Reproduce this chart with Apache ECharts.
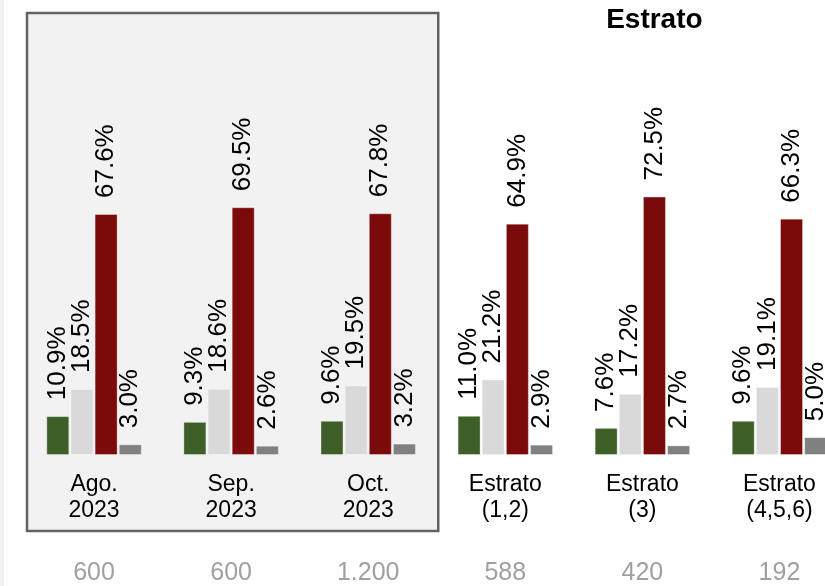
<!DOCTYPE html>
<html>
<head>
<meta charset="utf-8">
<script src="https://cdn.jsdelivr.net/npm/echarts@6/dist/echarts.min.js"></script>
<style>html,body{margin:0;padding:0;background:#fff;overflow:hidden;width:825px;height:586px;}#c{width:848px;height:586px;}</style>
</head>
<body>
<div id="c"></div>
<script>
const categories = ['Ago.\n2023', 'Sep.\n2023', 'Oct.\n2023', 'Estrato\n(1,2)', 'Estrato\n(3)', 'Estrato\n(4,5,6)'];
const counts = ['600', '600', '1.200', '588', '420', '192'];
const serieA = [10.9, 9.3, 9.6, 11.0, 7.6, 9.6];
const serieB = [18.5, 18.6, 19.5, 21.2, 17.2, 19.1];
const serieC = [67.6, 69.5, 67.8, 64.9, 72.5, 66.3];
const serieD = [3.0, 2.6, 3.2, 2.9, 2.7, 5.0];
const colors = ['#3e5f28', '#d9d9d9', '#7b0a0a', '#808080'];
const FONT = '"Liberation Sans", Arial, Helvetica, sans-serif';

const chart = echarts.init(document.getElementById('c'), null, {renderer: 'canvas'});

function mk(data, color) {
  return {
    type: 'bar', data: data, barWidth: 23, barGap: '5%',
    itemStyle: {color: color, borderColor: 'rgba(255,255,255,0.35)', borderWidth: 1},
    label: {
      show: true, position: 'top', rotate: 90, distance: 16,
      align: 'left', verticalAlign: 'middle',
      formatter: p => p.value.toFixed(1) + '%',
      fontSize: 26, color: '#000', fontFamily: FONT
    },
    animation: false
  };
}

chart.setOption({
  backgroundColor: '#fff',
  animation: false,
  grid: {left: 25.5, right: 0, top: 98.5, bottom: 131, containLabel: false},
  xAxis: [{
    type: 'category', data: categories, position: 'bottom',
    axisLine: {show: false}, axisTick: {show: false},
    axisLabel: {margin: 17, fontSize: 23, lineHeight: 26, color: '#000', fontFamily: FONT, interval: 0}
  }, {
    type: 'category', data: counts, position: 'bottom',
    axisLine: {show: false}, axisTick: {show: false},
    axisLabel: {margin: 105, fontSize: 25, lineHeight: 26, color: '#a0a0a0', fontFamily: FONT, interval: 0}
  }],
  yAxis: {type: 'value', min: 0, max: 100, show: false, splitLine: {show: false}},
  series: [mk(serieA, colors[0]), mk(serieB, colors[1]), mk(serieC, colors[2]), mk(serieD, colors[3])]
});

const c0 = chart.convertToPixel({xAxisIndex: 0}, categories[0]);
const c1 = chart.convertToPixel({xAxisIndex: 0}, categories[1]);
const c2 = chart.convertToPixel({xAxisIndex: 0}, categories[2]);
const c4 = chart.convertToPixel({xAxisIndex: 0}, categories[4]);
const bw = c1 - c0;
const bx0 = c0 - bw / 2 + 1.5;
const bx1 = c2 + bw / 2 + 1.5;

chart.setOption({
  graphic: [
    {type: 'rect', z: -10, shape: {x: 0, y: 0, width: 4, height: 586}, style: {fill: '#f2f2f2'}, silent: true},
    {type: 'rect', z: -5, shape: {x: bx0, y: 13, width: bx1 - bx0, height: 518}, style: {fill: '#f2f2f2', stroke: '#636363', lineWidth: 2.5}, silent: true},
    {type: 'text', z: 10, style: {text: 'Estrato', x: c4 + 12, y: 20, textAlign: 'center', textVerticalAlign: 'middle', font: 'bold 28px ' + FONT, fill: '#000'}, silent: true}
  ]
});
</script>
</body>
</html>
